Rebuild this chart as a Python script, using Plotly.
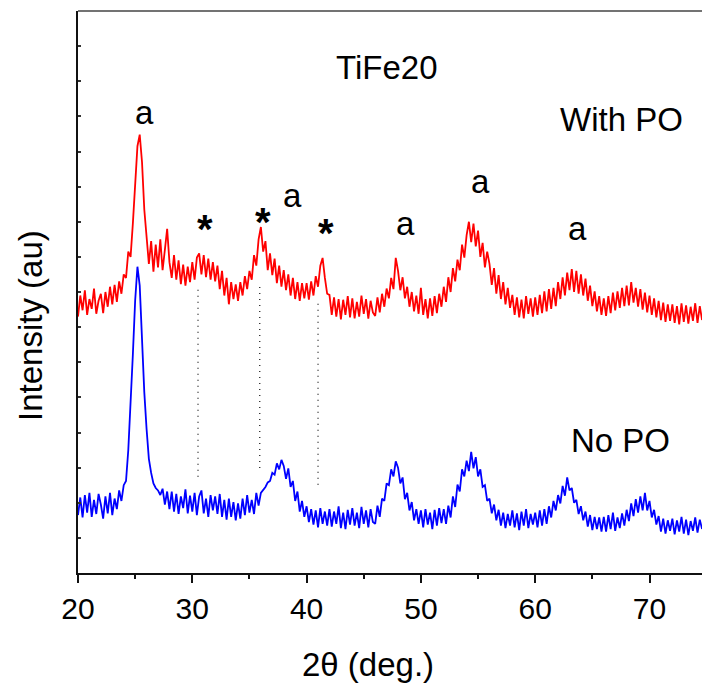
import plotly.graph_objects as go

# 2-theta sampling start / step (deg.)
x_start = 20.0
x_step = 0.2

# Intensity (a.u.), 20.0 .. 74.6 deg in 0.2 deg steps
with_po = [
    730, 790, 748, 805, 735, 780, 752, 810, 738, 775,        # 20.0-21.8
    795, 740, 800, 758, 815, 765, 820, 772, 830, 795,        # 22.0-23.8
    850, 840, 915, 900, 995, 1120, 1215, 1248, 1170, 1035,   # 24.0-25.8
    965, 880, 945, 858, 935, 870, 950, 862, 920, 980,        # 26.0-27.8
    885, 840, 905, 835, 890, 822, 878, 818, 872, 828,        # 28.0-29.8
    885, 835, 898, 910, 850, 905, 842, 895, 835, 885,        # 30.0-31.8
    830, 875, 808, 860, 790, 840, 765, 828, 780, 822,        # 32.0-33.8
    775, 828, 790, 845, 808, 860, 835, 905, 875, 950,        # 34.0-35.8
    985, 915, 945, 862, 910, 848, 895, 825, 875, 815,        # 36.0-37.8
    862, 805, 850, 790, 840, 780, 828, 775, 825, 782,        # 38.0-39.8
    825, 778, 830, 790, 845, 815, 875, 897, 840, 795,        # 40.0-41.8
    792, 735, 785, 730, 780, 722, 778, 735, 788, 728,        # 42.0-43.8
    782, 725, 772, 730, 790, 738, 780, 724, 775, 742,        # 44.0-45.8
    732, 785, 742, 795, 758, 810, 782, 840, 808, 897,        # 46.0-47.8
    860, 805, 842, 782, 815, 758, 800, 745, 790, 738,        # 48.0-49.8
    812, 735, 780, 725, 782, 732, 788, 740, 795, 758,        # 50.0-51.8
    815, 772, 842, 800, 868, 830, 892, 862, 935, 898,        # 52.0-53.8
    962, 1000, 942, 995, 930, 975, 900, 940, 870, 915,       # 54.0-55.8
    880, 820, 868, 795, 848, 780, 828, 765, 812, 755,        # 56.0-57.8
    792, 735, 785, 728, 778, 725, 788, 738, 782, 730,        # 58.0-59.8
    785, 735, 792, 740, 802, 745, 808, 752, 812, 760,        # 60.0-61.8
    828, 780, 842, 790, 855, 805, 865, 800, 860, 795,        # 62.0-63.8
    850, 790, 838, 775, 818, 760, 802, 745, 788, 735,        # 64.0-65.8
    782, 732, 788, 740, 798, 748, 802, 755, 812, 760,        # 66.0-67.8
    818, 762, 828, 770, 812, 758, 808, 750, 798, 742,        # 68.0-69.8
    790, 735, 782, 728, 775, 720, 770, 715, 765, 718,        # 70.0-71.8
    765, 712, 760, 708, 768, 715, 762, 710, 758, 718,        # 72.0-73.8
    768, 712, 760, 720,                                      # 74.0-74.6
]

no_po = [
    165, 215, 158, 222, 172, 228, 160, 208, 168, 225,        # 20.0-21.8
    195, 155, 218, 170, 228, 165, 212, 182, 235, 205,        # 22.0-23.8
    250, 262, 350, 468, 622, 775, 872, 818, 660, 515,        # 24.0-25.8
    410, 325, 285, 255, 242, 235, 222, 240, 195, 232,        # 26.0-27.8
    182, 232, 175, 225, 168, 218, 185, 238, 170, 220,        # 28.0-29.8
    175, 228, 165, 218, 235, 170, 212, 160, 222, 178,        # 30.0-31.8
    218, 168, 225, 160, 208, 152, 212, 160, 202, 150,        # 32.0-33.8
    198, 155, 212, 165, 222, 172, 208, 168, 228, 192,        # 34.0-35.8
    228, 235, 245, 258, 262, 285, 280, 312, 295, 322,        # 36.0-37.8
    305, 268, 298, 245, 262, 205, 232, 175, 205, 160,        # 38.0-39.8
    190, 145, 182, 138, 178, 130, 185, 140, 175, 135,        # 40.0-41.8
    182, 132, 175, 140, 190, 128, 172, 125, 180, 138,        # 42.0-43.8
    185, 135, 172, 128, 188, 140, 178, 130, 182, 145,        # 44.0-45.8
    140, 192, 160, 212, 205, 255, 250, 295, 275, 318,        # 46.0-47.8
    300, 255, 272, 210, 228, 178, 202, 150, 182, 140,        # 48.0-49.8
    178, 130, 182, 138, 172, 125, 180, 135, 185, 142,        # 50.0-51.8
    182, 140, 192, 158, 218, 188, 252, 232, 295, 275,        # 52.0-53.8
    320, 290, 345, 298, 330, 275, 295, 245, 250, 205,        # 54.0-55.8
    212, 170, 195, 150, 180, 135, 172, 128, 168, 135,        # 56.0-57.8
    178, 130, 170, 122, 175, 135, 182, 128, 168, 138,        # 58.0-59.8
    172, 130, 178, 135, 182, 140, 190, 158, 205, 178,        # 60.0-61.8
    222, 198, 248, 220, 272, 235, 242, 200, 208, 168,        # 62.0-63.8
    190, 150, 175, 132, 165, 122, 160, 125, 158, 118,        # 64.0-65.8
    160, 118, 165, 125, 172, 120, 158, 128, 170, 135,        # 66.0-67.8
    180, 148, 198, 162, 210, 172, 218, 178, 228, 178,        # 68.0-69.8
    205, 158, 180, 138, 162, 118, 155, 112, 150, 120,        # 70.0-71.8
    155, 110, 150, 118, 160, 112, 152, 108, 148, 120,        # 72.0-73.8
    158, 115, 152, 125,                                      # 74.0-74.6
]

# Dotted guide lines (impurity reflections marked *)
guide_x = [30.5, 35.9, 41.0]
guide_y_bottom = [274, 299, 251]
guide_y_top = [815, 826, 777]

# Peak labels
anatase_x = [25.8, 38.8, 48.65, 55.2, 63.7]
anatase_y = [1310, 1075, 995, 1115, 980]
star_x = [31.15, 36.22, 41.73]
star_y = [980, 1000, 967]

# Axis ticks
x_tick_vals = [20, 30, 40, 50, 60, 70]
x_tick_text = ["20", "30", "40", "50", "60", "70"]

x_with = [round(x_start + i * x_step, 2) for i in range(len(with_po))]
x_no = [round(x_start + i * x_step, 2) for i in range(len(no_po))]

FONT = "Arial, Liberation Sans, sans-serif"

fig = go.Figure()
for gx, gy0, gy1 in zip(guide_x, guide_y_bottom, guide_y_top):
    fig.add_trace(go.Scatter(x=[gx, gx], y=[gy0, gy1], mode="lines",
                             line=dict(color="#222222", width=1.3, dash="1px,5px"),
                             showlegend=False, hoverinfo="skip"))
fig.add_trace(go.Scatter(x=x_no, y=no_po, mode="lines",
                         line=dict(color="#0000FF", width=1.8), showlegend=False))
fig.add_trace(go.Scatter(x=x_with, y=with_po, mode="lines",
                         line=dict(color="#FF0000", width=1.8), showlegend=False))

ann = []
for ax_, ay_ in zip(anatase_x, anatase_y):
    ann.append(dict(x=ax_, y=ay_, xref="x", yref="y", text="a", showarrow=False,
                    xanchor="center", yanchor="middle",
                    font=dict(family=FONT, size=33, color="black")))
for sx_, sy_ in zip(star_x, star_y):
    ann.append(dict(x=sx_, y=sy_, xref="x", yref="y", text="<b>*</b>", showarrow=False,
                    xanchor="center", yanchor="middle",
                    font=dict(family=FONT, size=40, color="black")))
ann.append(dict(x=46.97, y=1439, xref="x", yref="y", text="TiFe20", showarrow=False,
                xanchor="center", yanchor="middle",
                font=dict(family=FONT, size=33, color="black")))
ann.append(dict(x=67.58, y=1290, xref="x", yref="y", text="With PO", showarrow=False,
                xanchor="center", yanchor="middle",
                font=dict(family=FONT, size=33, color="black")))
ann.append(dict(x=67.5, y=377, xref="x", yref="y", text="No PO", showarrow=False,
                xanchor="center", yanchor="middle",
                font=dict(family=FONT, size=33, color="black")))
# axis titles
ann.append(dict(x=(367.5 - 78) / 624, y=(573 - 664) / 562, xref="paper", yref="paper",
                text="2θ (deg.)", showarrow=False, xanchor="center", yanchor="middle",
                font=dict(family=FONT, size=33, color="black")))
ann.append(dict(x=(30 - 78) / 624, y=(573 - 326) / 562, xref="paper", yref="paper",
                text="Intensity (au)", showarrow=False, textangle=-90,
                xanchor="center", yanchor="middle",
                font=dict(family=FONT, size=33, color="black")))

fig.update_layout(
    width=702, height=685,
    margin=dict(l=78, r=0, t=11, b=112, pad=0),
    paper_bgcolor="white", plot_bgcolor="white",
    annotations=ann,
    shapes=[dict(type="line", xref="paper", yref="paper", x0=0, x1=1, y0=1, y1=1,
                 line=dict(color="#444444", width=1.5))],
)
fig.update_xaxes(range=[20, 20 + 624 / 11.43], showgrid=False, zeroline=False,
                 showline=True, linecolor="#111111", linewidth=2,
                 ticks="outside", ticklen=8, tickwidth=2, tickcolor="#111111",
                 tickvals=x_tick_vals, ticktext=x_tick_text,
                 tickfont=dict(family=FONT, size=30, color="black"),
                 minor=dict(ticks="outside", ticklen=4, tickwidth=2, dtick=5,
                            tick0=20, tickcolor="#111111", showgrid=False))
fig.update_yaxes(range=[0, 1600], showgrid=False, zeroline=False,
                 showline=True, linecolor="#111111", linewidth=2,
                 ticks="inside", ticklen=3, tickwidth=1.5, tickcolor="#333333",
                 dtick=100, tick0=0, showticklabels=False)

fig.write_html("out.html")
